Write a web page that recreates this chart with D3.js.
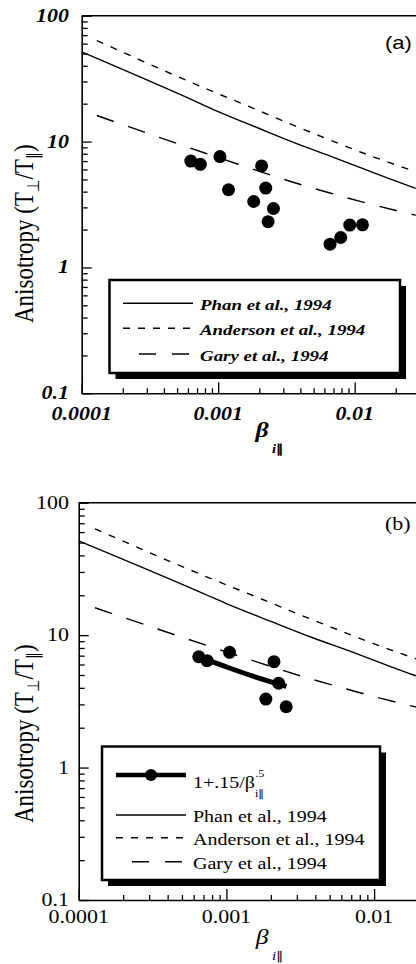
<!DOCTYPE html>
<html>
<head>
<meta charset="utf-8">
<script src="https://cdn.jsdelivr.net/npm/d3@7"></script>
<style>
html, body { margin: 0; padding: 0; background: #fff; }
svg { display: block; }
text { font-family: "Liberation Serif", "Times New Roman", serif; fill: #000; }
</style>
</head>
<body>
<svg id="chart" width="416" height="964"></svg>
<script>
'use strict';

// observed points, panel (a)
var obsBetaA  = [6.3e-4, 7.4e-4, 1.03e-3, 2.08e-3, 1.19e-3, 2.23e-3, 1.82e-3, 2.54e-3, 2.32e-3, 6.6e-3, 7.9e-3, 9.2e-3, 1.14e-2];
var obsAnisoA = [7.0, 6.6, 7.6, 6.4, 4.14, 4.27, 3.34, 2.94, 2.31, 1.53, 1.73, 2.17, 2.18];

// observed points, panel (b)
var obsBetaB  = [6.5e-4, 7.4e-4, 1.05e-3, 2.10e-3, 2.26e-3, 1.85e-3, 2.54e-3];
var obsAnisoB = [6.87, 6.41, 7.41, 6.30, 4.33, 3.29, 2.88];

// fit 1+.15/beta^.5 as drawn
var fitBeta  = [6.5e-4, 1.0e-3, 1.6e-3, 2.55e-3];
var fitAniso = [6.85, 5.75, 4.8, 4.1];

// published thresholds
var phanBeta      = [1e-4, 7e-4, 1e-3, 2e-3, 3.8e-3, 7e-3, 1.1e-2, 1.85e-2, 2.8e-2];
var phanAniso     = [51.5, 20.6, 17.3, 12.7, 9.6, 7.5, 6.2, 5.0, 4.25];
var andersonBeta  = [1.29e-4, 8e-4, 1.62e-3, 4e-3, 1.4e-2, 2.5e-2];
var andersonAniso = [63.5, 26.5, 19.3, 12.8, 7.5, 6.0];
var garyBeta      = [1.29e-4, 7.5e-4, 1.4e-3, 3.9e-3, 6.6e-3, 1.15e-2, 1.94e-2, 2.8e-2];
var garyAniso     = [16.1, 8.3, 6.6, 4.6, 3.9, 3.3, 2.86, 2.6];

// ticks (0.1 on x is past the visible edge, so unlabelled)
var xMajor = [1e-4, 1e-3, 1e-2, 1e-1];
var xTickLabels = ['0.0001', '0.001', '0.01'];
var yMajor = [0.1, 1, 10, 100];
var yTickLabels = ['0.1', '1', '10', '100'];
var legendNames = ['Phan et al., 1994', 'Anderson et al., 1994', 'Gary et al., 1994'];

var SX = 1.22; // the scan is stretched horizontally
var svg = d3.select('#chart');

function zip(a, b) {
	return a.map(function(v, i) { return [v, b[i]]; });
}

function minorTicks(lo, hi) {
	var out = [];
	for (var d = lo; d < hi * 0.99; d *= 10) {
		for (var k = 2; k <= 9; k++) { out.push(d * k); }
	}
	return out;
}

/**
 * Text stretched like the scan.
 */
function label(g, x, y, str, style, rot) {
	var t = g.append('text')
		.attr('transform', 'translate(' + x + ',' + y + ') scale(' + SX + ',1)' + (rot ? ' rotate(-90)' : ''))
		.style('font-size', style.size + 'px')
		.style('font-weight', style.bold ? 'bold' : 'normal')
		.style('font-style', style.italic ? 'italic' : 'normal')
		.attr('text-anchor', style.anchor || 'start');
	if (style.family) { t.style('font-family', style.family); }
	if (str !== null) { t.text(str); }
	return t;
}

function drawPanel(cfg) {
	var x = d3.scaleLog().domain([1e-4, 1e-1]).range([cfg.left, cfg.left + 3 * cfg.decadeX]);
	var y = d3.scaleLog().domain([0.1, 100]).range([cfg.bottom, cfg.top]);
	var g = svg.append('g');
	var f = { size: 18, bold: cfg.bold, italic: cfg.bold };

	// top frame
	g.append('line')
		.attr('x1', cfg.left).attr('x2', x.range()[1])
		.attr('y1', cfg.top).attr('y2', cfg.top)
		.attr('stroke', '#000').attr('stroke-width', 1.6);

	var yAx = g.append('g').attr('transform', 'translate(' + cfg.left + ',0)');
	yAx.call(d3.axisLeft(y).tickValues(yMajor).tickSize(-10).tickSizeOuter(0).tickFormat(''));
	yAx.append('g').call(d3.axisLeft(y).tickValues(minorTicks(0.1, 100)).tickSize(-6).tickFormat(''))
		.select('.domain').remove();

	var xAx = g.append('g').attr('transform', 'translate(0,' + cfg.bottom + ')');
	xAx.call(d3.axisBottom(x).tickValues(xMajor).tickSize(-11).tickSizeOuter(0).tickFormat(''));
	xAx.append('g').call(d3.axisBottom(x).tickValues(minorTicks(1e-4, 1e-1)).tickSize(-5).tickFormat(''))
		.select('.domain').remove();

	g.selectAll('.domain').attr('stroke-width', 1.6);
	g.selectAll('.tick line').attr('stroke-width', 1.3);

	yMajor.forEach(function(v, i) {
		label(g, 69, y(v) + 6, yTickLabels[i], Object.assign({ anchor: 'end' }, f));
	});
	xTickLabels.forEach(function(s, i) {
		label(g, x(xMajor[i]), cfg.bottom + cfg.xLabelOff, s, Object.assign({ anchor: 'middle' }, f));
	});

	// curves
	var line = d3.line()
		.x(function(d) { return x(d[0]); })
		.y(function(d) { return y(d[1]); })
		.curve(d3.curveMonotoneX);
	var curves = [
		{ data: zip(phanBeta, phanAniso), dash: null },
		{ data: zip(andersonBeta, andersonAniso), dash: '7,8' },
		{ data: zip(garyBeta, garyAniso), dash: '18,15' }
	];
	g.selectAll('path.curve').data(curves).enter().append('path')
		.attr('class', 'curve')
		.attr('d', function(d) { return line(d.data); })
		.attr('fill', 'none').attr('stroke', '#000').attr('stroke-width', 1.4)
		.attr('stroke-dasharray', function(d) { return d.dash; });

	if (cfg.fit) {
		g.append('path')
			.attr('d', line(zip(fitBeta, fitAniso)))
			.attr('fill', 'none').attr('stroke', '#000').attr('stroke-width', 5);
	}

	g.selectAll('circle.obs').data(zip(cfg.beta, cfg.aniso)).enter().append('circle')
		.attr('class', 'obs')
		.attr('cx', function(d) { return x(d[0]); })
		.attr('cy', function(d) { return y(d[1]); })
		.attr('r', 6.5).attr('fill', '#000');

	// panel tag
	label(g, 385, cfg.top + cfg.tagOff, cfg.tag, { size: 18, family: cfg.tagFamily });

	// legend box with drop shadow
	var L = cfg.legend;
	g.append('rect').attr('x', L.x + 6).attr('y', L.y + 6).attr('width', L.w).attr('height', L.h).attr('fill', '#000');
	g.append('rect').attr('x', L.x).attr('y', L.y).attr('width', L.w).attr('height', L.h)
		.attr('fill', '#fff').attr('stroke', '#000').attr('stroke-width', 2.5);

	var rows = L.rows;
	var lf = { size: L.size, bold: cfg.bold, italic: cfg.bold };
	var dashes = [null, '7,8', '17,16'];
	var offs = [0, 0, 17];
	var r0 = cfg.fit ? 1 : 0;
	if (cfg.fit) {
		g.append('line').attr('x1', L.lx1).attr('x2', L.lx2).attr('y1', rows[0]).attr('y2', rows[0])
			.attr('stroke', '#000').attr('stroke-width', 4.5);
		g.append('circle').attr('cx', (L.lx1 + L.lx2) / 2).attr('cy', rows[0]).attr('r', 6).attr('fill', '#000');
		var t = label(g, L.tx, rows[0] + 13, null, lf);
		t.append('tspan').text('1+.15/\u03b2');
		t.append('tspan').attr('dy', 9).style('font-size', '10px').text('i\u2225');
		t.append('tspan').attr('dx', -8).attr('dy', -20).style('font-size', '10px').text('.5');
	}
	legendNames.forEach(function(name, i) {
		var yy = rows[i + r0];
		g.append('line').attr('x1', L.lx1).attr('x2', L.lx2).attr('y1', yy).attr('y2', yy)
			.attr('stroke', '#000').attr('stroke-width', 1.4)
			.attr('stroke-dasharray', dashes[i]).attr('stroke-dashoffset', offs[i]);
		label(g, L.tx, yy + 7, name, lf);
	});

	// axis titles
	var yt = label(g, 33, cfg.titleY, null, { size: 23 }, true);
	yt.append('tspan').text('Anisotropy (T');
	yt.append('tspan').attr('dy', 5).style('font-size', '14px').text('\u22a5');
	yt.append('tspan').attr('dy', -5).text('/T');
	yt.append('tspan').attr('dy', 5).style('font-size', '14px').text('\u2225');
	yt.append('tspan').attr('dy', -5).text(')');

	label(g, 262, cfg.betaY, '\u03b2', { size: 21, bold: cfg.bold, italic: true, anchor: 'middle' });
	var sub = label(g, 272, cfg.betaY + 16, null, { size: 12, bold: cfg.bold });
	sub.append('tspan').style('font-style', 'italic').text('i');
	sub.append('tspan').text('\u2225');
}

drawPanel({
	left: 81.7, top: 15.7, bottom: 393.3, decadeX: 136.5,
	bold: true, xLabelOff: 27, tag: '(a)', tagFamily: 'Liberation Sans, Arial, sans-serif', tagOff: 33,
	beta: obsBetaA, aniso: obsAnisoA, fit: false,
	titleY: 323, betaY: 437,
	legend: { x: 109.5, y: 280, w: 290.5, h: 93, rows: [303.3, 328.3, 354], lx1: 123, lx2: 193, tx: 200, size: 15.5 }
});

drawPanel({
	left: 78.7, top: 502.7, bottom: 900, decadeX: 147.7,
	bold: false, xLabelOff: 23, tag: '(b)', tagOff: 27,
	beta: obsBetaB, aniso: obsAnisoB, fit: true,
	titleY: 823, betaY: 944,
	legend: { x: 102, y: 746.5, w: 278, h: 133.5, rows: [775, 815, 837.7, 861.7], lx1: 116, lx2: 186, tx: 193, size: 16.4 }
});
</script>
</body>
</html>
